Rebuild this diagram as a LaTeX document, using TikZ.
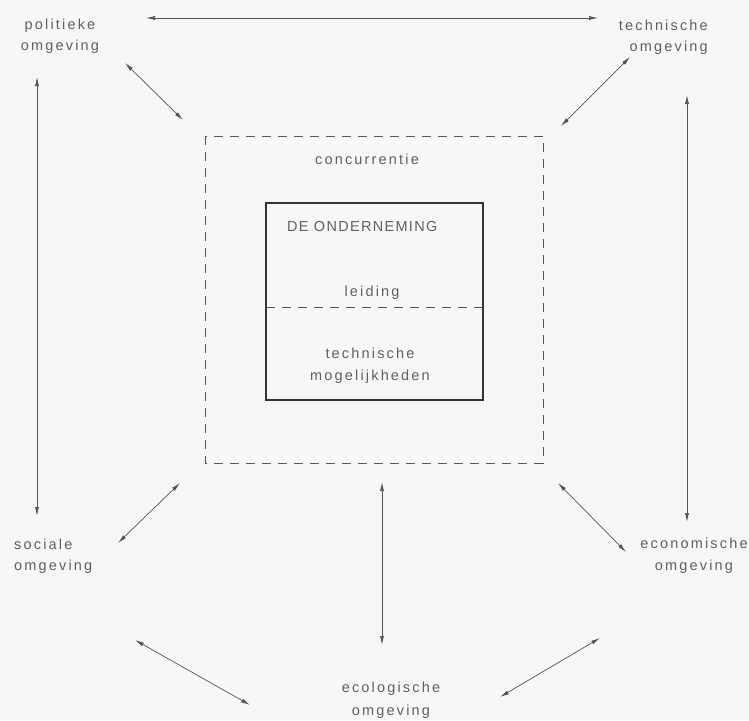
\documentclass[tikz,border=0pt]{standalone}
\usepackage{fontspec}
\setmainfont{Liberation Sans}
\newfontfamily\labelfont[LetterSpace=15]{Liberation Sans}
\newfontfamily\capsfont[LetterSpace=9]{Liberation Sans}
\usetikzlibrary{arrows.meta}
\definecolor{ink}{HTML}{555555}
\definecolor{textgrey}{HTML}{606060}
\definecolor{paper}{HTML}{F7F7F5}
\begin{document}
\begin{tikzpicture}[x=1pt,y=-1pt,
  lbl/.style={text=textgrey,font=\labelfont\fontsize{14.5}{21}\selectfont,align=center,inner sep=0pt},
  link/.style={draw=ink,line width=0.7pt,{Latex[length=9pt,width=4pt]}-{Latex[length=9pt,width=4pt]}},
  dashbox/.style={draw=ink,line width=0.8pt,dash pattern=on 9pt off 7pt},
  firmbox/.style={draw=ink!60!black,line width=1.9pt}]
\fill[paper] (0,0) rectangle (749,720);
\useasboundingbox (0,0) rectangle (749,720);

% competition boundary and the firm
\draw[dashbox] (205,136) rectangle (543,463);
\draw[firmbox] (266,203) rectangle (483,400);
\draw[ink,line width=0.8pt,dash pattern=on 9pt off 7pt] (266,307) -- (483,307);

\node[lbl] (conc) at (367,159) {concurrentie};
\node[lbl,anchor=west,font=\capsfont\fontsize{14.5}{21}\selectfont] (firm) at (287,227) {DE ONDERNEMING};
\node[lbl] (lead) at (372,293) {leiding};
\node[lbl,font=\labelfont\fontsize{14.5}{22}\selectfont] (tech) at (370,366) {technische\\mogelijkheden};

% surrounding environments
\node[lbl] (pol) at (60,36) {politieke\\omgeving};
\node[lbl,align=right,anchor=east] (tec) at (708,37) {technische\hspace{4pt}\\omgeving};
\node[lbl,align=left,anchor=west] (soc) at (14,556) {sociale\\omgeving};
\node[lbl,font=\labelfont\fontsize{14.5}{22}\selectfont] (eco) at (694,556) {economische\\omgeving\hspace{8pt}};
\node[lbl,font=\labelfont\fontsize{14.5}{23}\selectfont] (ecl) at (391,700) {ecologische\\omgeving};

% arrow end points
\coordinate (t1) at (146,18);  \coordinate (t2) at (598,18);
\coordinate (l1) at (37,77);   \coordinate (l2) at (37,516);
\coordinate (r1) at (687,95);  \coordinate (r2) at (687,522);
\coordinate (a1) at (125,63);  \coordinate (a2) at (183,120);
\coordinate (b1) at (630,57);  \coordinate (b2) at (561,126);
\coordinate (c1) at (180,483); \coordinate (c2) at (118,543);
\coordinate (d1) at (558,483); \coordinate (d2) at (626,552);
\coordinate (e1) at (382,482); \coordinate (e2) at (382,645);
\coordinate (f1) at (135,640); \coordinate (f2) at (250,705);
\coordinate (g1) at (600,638); \coordinate (g2) at (500,697);

\draw[link] (t1) -- (t2);
\draw[link] (l1) -- (l2);
\draw[link] (r1) -- (r2);
\draw[link] (a1) -- (a2);
\draw[link] (b1) -- (b2);
\draw[link] (c1) -- (c2);
\draw[link] (d1) -- (d2);
\draw[link] (e1) -- (e2);
\draw[link] (f1) -- (f2);
\draw[link] (g1) -- (g2);
\end{tikzpicture}
\end{document}
